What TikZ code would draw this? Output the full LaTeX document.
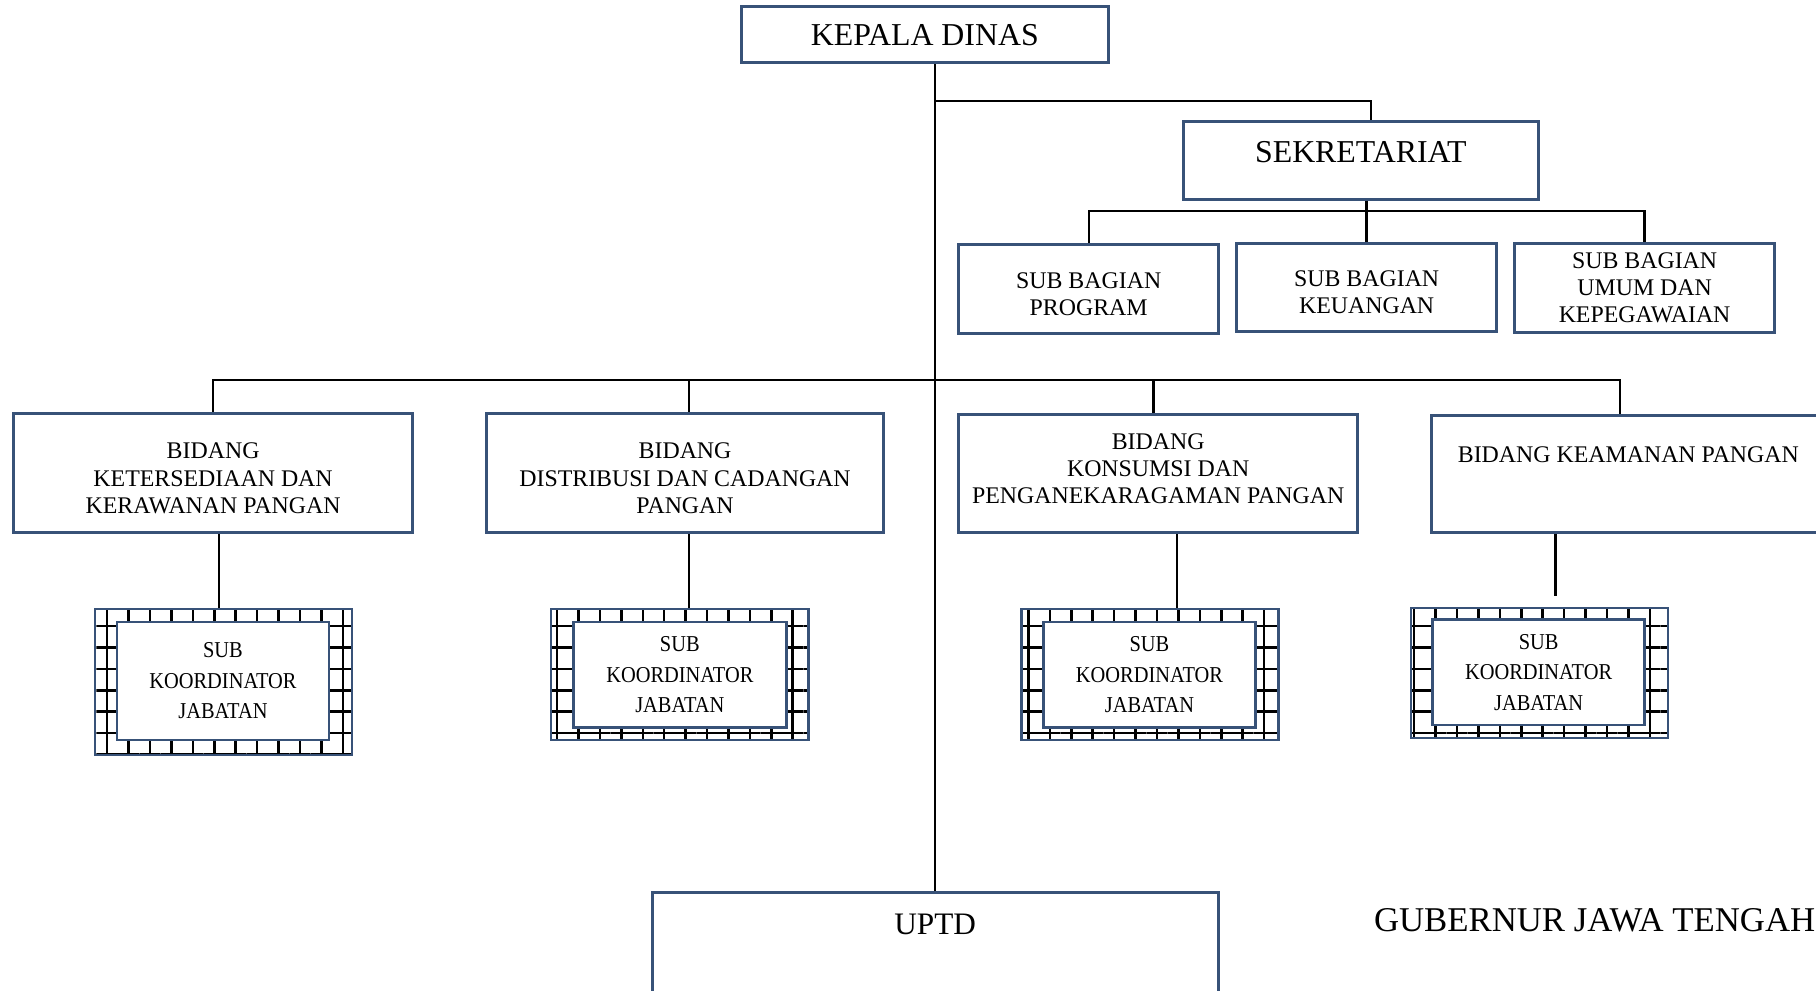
\documentclass[tikz,border=0pt]{standalone}
\usepackage{fontspec}
\setmainfont{Liberation Serif}
\newfontfamily\koorfont{Liberation Serif}[FakeStretch=0.9]
\usetikzlibrary{patterns.meta}
\definecolor{garisbiru}{RGB}{56,82,120}
\newcommand{\turun}{\rule{0pt}{11.3pt}}
\newcommand{\naik}{\rule[-4.5pt]{0pt}{4.5pt}}

\tikzset{
  kotak/.style={draw=garisbiru, line width=1.3pt, inner sep=0pt, align=center},
  kotakkecil/.style={kotak, font=\fontsize{10.3}{11.75}\selectfont},
  garis/.style={line width=1pt, black},
  koorpola/.style={draw=garisbiru, line width=1pt, inner sep=0pt, minimum width=111pt,
    pattern={Hatch[angle=0, distance=9.25pt, line width=1.1pt]}, pattern color=black},
  koorbox/.style={draw=garisbiru, line width=1.2pt, fill=white, inner sep=0pt, align=center,
    font=\koorfont\fontsize{9.8}{13.2}\selectfont},
}

\begin{document}
\begin{tikzpicture}[x=0.5pt, y=-0.5pt]
      \useasboundingbox (0,0) rectangle (1568,855);

      \node[kotak, minimum width=158.5pt, minimum height=24pt, font=\fontsize{13.75}{16}\selectfont] (kd) at (798.5,30) {KEPALA DINAS};
      \node[kotak, minimum width=153pt, text height=17.5pt, text depth=16pt, font=\fontsize{13.75}{16}\selectfont] (sek) at (1175,138.5) {SEKRETARIAT};

      \node[kotakkecil, minimum width=112pt, minimum height=38.5pt] (sbp) at (940,249.5) {\turun SUB BAGIAN\\PROGRAM};
      \node[kotakkecil, minimum width=112pt, minimum height=38pt] (sbk) at (1180,248) {\turun SUB BAGIAN\\KEUANGAN};
      \node[kotakkecil, minimum width=112pt, minimum height=38.5pt] (sbu) at (1420,248.5) {SUB BAGIAN\\UMUM DAN\\KEPEGAWAIAN};

      \node[kotakkecil, minimum width=172pt, minimum height=51.5pt] (b1) at (184,408.5) {\turun BIDANG\\KETERSEDIAAN DAN\\KERAWANAN PANGAN};
      \node[kotakkecil, minimum width=171.5pt, minimum height=51.5pt] (b2) at (591.5,408.5) {\turun BIDANG\\DISTRIBUSI DAN CADANGAN\\PANGAN};
      \node[kotakkecil, minimum width=172pt, minimum height=51pt] (b3) at (1000,409) {BIDANG\\KONSUMSI DAN\\PENGANEKARAGAMAN PANGAN\naik};
      \node[kotakkecil, minimum width=170pt, text height=20pt, text depth=30.5pt] (b4) at (1406,409.5) {BIDANG KEAMANAN PANGAN};

      \node[koorpola, minimum height=63pt] (k1o) at (193,589) {};
      \node[koorbox, minimum width=91.5pt, minimum height=51pt] (k1) at (192.5,588) {SUB\\KOORDINATOR\\JABATAN};
      \node[koorpola, minimum height=56.5pt] (k2o) at (587,582.5) {};
      \node[koorbox, minimum width=92pt, minimum height=45.5pt] (k2) at (587,582.5) {SUB\\KOORDINATOR\\JABATAN};
      \node[koorpola, minimum height=56.5pt] (k3o) at (993,582.5) {};
      \node[koorbox, minimum width=91.5pt, minimum height=45.5pt] (k3) at (992.5,582.5) {SUB\\KOORDINATOR\\JABATAN};
      \node[koorpola, minimum height=56pt] (k4o) at (1329,581) {};
      \node[koorbox, minimum width=91.5pt, minimum height=45.5pt] (k4) at (1328.5,580.5) {SUB\\KOORDINATOR\\JABATAN};

      \node[kotak, minimum width=244.5pt, text height=18pt, text depth=46.5pt, font=\fontsize{13.5}{16}\selectfont] (uptd) at (807.5,835.5) {UPTD};
      \node[anchor=base west, inner sep=0pt, font=\fontsize{15}{17}\selectfont] (gub) at (1186,804) {GUBERNUR JAWA TENGAH};

      % garis penghubung
      \coordinate (jsek) at (807.5,87);
      \coordinate (jsb) at (1182,182);
      \coordinate (jb) at (807.5,328);

      \draw[garis] (kd.south -| uptd.north) -- (uptd.north);
      \draw[garis] (jsek) -| ([xshift=4.5pt]sek.north);
      \draw[garis] (sek.south -| sbk.north) -- (sbk.north);
      \draw[garis] (sbp.north) |- (jsb) -| (sbu.north);
      \draw[garis] (b1.north) |- (jb) -| ([xshift=-3.5pt]b4.north);
      \draw[garis] ([xshift=1.75pt]b2.north |- jb) -- ([xshift=1.75pt]b2.north);
      \draw[garis] ([xshift=-2pt]b3.north |- jb) -- ([xshift=-2pt]b3.north);

      \draw[garis] ([xshift=-2pt]k1o.north |- b1.south) -- ([xshift=-2pt]k1o.north);
      \draw[garis] ([xshift=4pt]k2o.north |- b2.south) -- ([xshift=4pt]k2o.north);
      \draw[garis] ([xshift=11.5pt]k3o.north |- b3.south) -- ([xshift=11.5pt]k3o.north);
      \draw[garis] ([xshift=7pt]k4o.north |- b4.south) -- ([xshift=7pt,yshift=4.5pt]k4o.north);
    \end{tikzpicture}
\end{document}
